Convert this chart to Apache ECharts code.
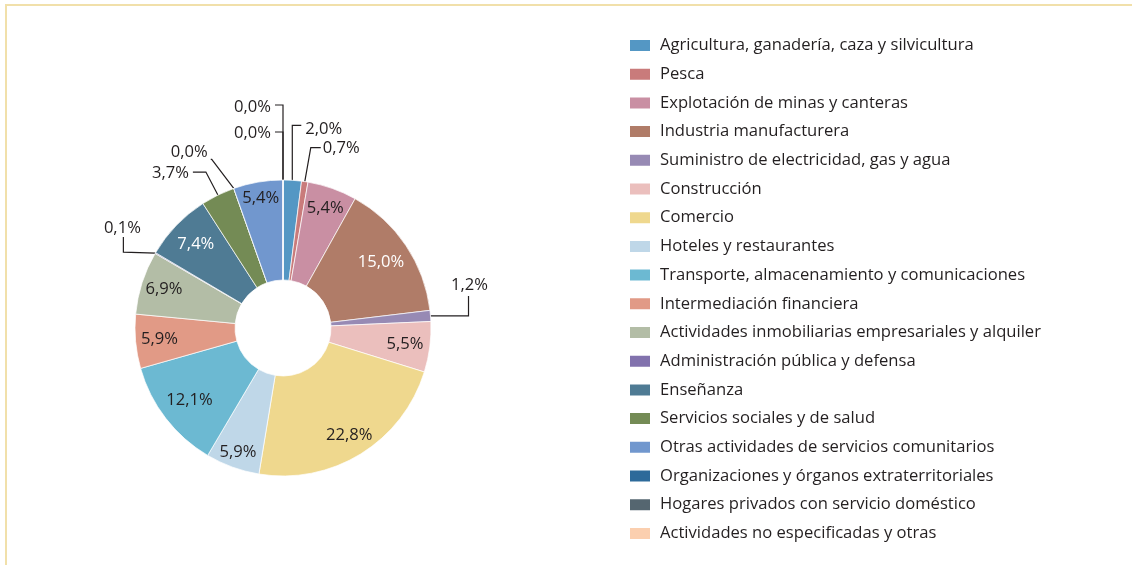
<!DOCTYPE html>
<html>
<head>
<meta charset="utf-8">
<script src="https://cdn.jsdelivr.net/npm/echarts@6/dist/echarts.min.js"></script>
<style>
  html, body { margin: 0; padding: 0; background: #fff; }
  #frame {
    position: absolute; left: 5px; top: 4px; right: 0; bottom: 0;
    border-top: 2px solid #f1e0aa; border-left: 2px solid #f1e0aa;
  }
  #chart { position: absolute; left: 0; top: 0; width: 1132px; height: 565px; }
</style>
</head>
<body>
<div id="frame"></div>
<div id="chart"></div>
<script>
// sectores (orden de la leyenda)
var categories = [
  'Agricultura, ganadería, caza y silvicultura',
  'Pesca',
  'Explotación de minas y canteras',
  'Industria manufacturera',
  'Suministro de electricidad, gas y agua',
  'Construcción',
  'Comercio',
  'Hoteles y restaurantes',
  'Transporte, almacenamiento y comunicaciones',
  'Intermediación financiera',
  'Actividades inmobiliarias empresariales y alquiler',
  'Administración pública y defensa',
  'Enseñanza',
  'Servicios sociales y de salud',
  'Otras actividades de servicios comunitarios',
  'Organizaciones y órganos extraterritoriales',
  'Hogares privados con servicio doméstico',
  'Actividades no especificadas y otras'
];
var shares = [2.0, 0.7, 5.4, 15.0, 1.2, 5.5, 22.8, 5.9, 12.1, 5.9, 6.9, 0.1, 7.4, 3.7, 5.4, 0.0, 0.0, 0.0];
// orden en que se dibujan las porciones (sentido horario desde arriba)
var sliceOrder = [0, 1, 2, 3, 4, 5, 6, 7, 8, 9, 10, 11, 12, 13, 15, 14, 16, 17];

var colors = ['#5497c4', '#c97b7b', '#c98fa3', '#b07c68', '#978ab4', '#ebbfbd', '#efd88e', '#bfd7e8',
  '#6cb9d2', '#e19a86', '#b3bda6', '#8272ad', '#4f7b94', '#748b55', '#7197ce', '#2d6a9a', '#556670', '#fbcfaf'];

var CX = 283, CY = 328;
var TEXT = '#231f20';
var FONT = '"Open Sans", "Noto Sans", sans-serif';

// porciones finas con etiqueta fuera: trazo relativo al borde de la porcion
var leaders = {
  0:  { pts: [[0, -55], [9, -55]], lx: 13, ly: -51, align: 'left' },
  1:  { pts: [[6, -34], [16, -34]], lx: 18, ly: -33, align: 'left' },
  4:  { pts: [[38, 0], [38, -20]], lx: 39, ly: -31, align: 'center' },
  11: { pts: [[-32, -1], [-32, -16]], lx: -33, ly: -25, align: 'center' },
  13: { pts: [[-12, -23], [-25, -23]], lx: -29, ly: -22, align: 'right' },
  15: { pts: [[-22, -29], [-23, -29]], lx: -26, ly: -36, align: 'right' },
  16: { pts: [[0, -75], [-8, -75]], lx: -12, ly: -73, align: 'right' },
  17: { pts: [[0, -48], [-8, -48]], lx: -12, ly: -47, align: 'right' }
};
var whiteLabels = [3, 12];
// distancia al centro de las etiquetas interiores
var labelRadius = { 2: 127, 3: 118, 5: 123, 6: 126, 7: 132, 8: 118, 9: 124, 10: 125, 12: 121, 14: 132 };

function pct(v) { return v.toFixed(1).replace('.', ',') + '%'; }

var pieData = sliceOrder.map(function (i) {
  var outside = leaders[i] !== undefined;
  return {
    name: categories[i],
    value: shares[i],
    itemStyle: { color: colors[i] },
    label: {
      position: outside ? 'outside' : 'inside',
      color: whiteLabels.indexOf(i) >= 0 ? '#fff' : TEXT
    },
    labelLine: { show: outside }
  };
});

var chart = echarts.init(document.getElementById('chart'));
chart.setOption({
  animation: false,
  legend: {
    orient: 'vertical',
    left: 628,
    top: 37,
    padding: 0,
    itemWidth: 22,
    itemHeight: 13,
    itemGap: 11.7,
    icon: 'rect',
    data: categories,
    selectedMode: false,
    textStyle: { fontFamily: FONT, fontSize: 16.6, color: TEXT, lineHeight: 16, padding: [0, 0, 0, 4] }
  },
  series: [{
    type: 'pie',
    center: [CX, CY],
    radius: [48, 148],
    startAngle: 90,
    clockwise: true,
    avoidLabelOverlap: false,
    silent: true,
    itemStyle: { borderColor: '#fff', borderWidth: 0.7 },
    label: {
      show: true,
      fontFamily: FONT,
      fontSize: 16.6,
      formatter: function (p) { return pct(p.value); }
    },
    labelLine: { length: 10, length2: 10, lineStyle: { color: TEXT, width: 1.2 } },
    labelLayout: function (params) {
      var cat = sliceOrder[params.dataIndex];
      var spot = leaders[cat];
      if (spot && params.labelLinePoints) {
        var a = params.labelLinePoints[0];
        var pts = [[a[0], a[1]]].concat(spot.pts.map(function (p) { return [a[0] + p[0], a[1] + p[1]]; }));
        return { x: a[0] + spot.lx, y: a[1] + spot.ly, align: spot.align, verticalAlign: 'middle', labelLinePoints: pts };
      }
      var r = params.labelRect;
      var dx = r.x + r.width / 2 - CX, dy = r.y + r.height / 2 - CY;
      var d = Math.sqrt(dx * dx + dy * dy) || 1;
      var k = (labelRadius[cat] || 124) / d - 1;
      return { dx: dx * k, dy: dy * k };
    },
    data: pieData
  }]
});
</script>
</body>
</html>
